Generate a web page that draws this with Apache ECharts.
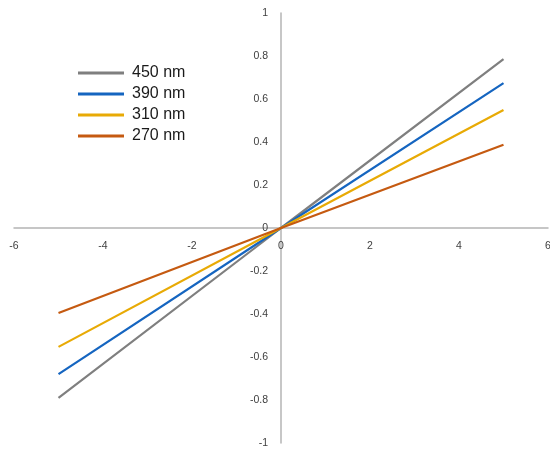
<!DOCTYPE html>
<html><head><meta charset="utf-8">
<script src="https://cdn.jsdelivr.net/npm/echarts@6/dist/echarts.min.js"></script>
<style>html,body{margin:0;padding:0;background:#fff}#c{width:550px;height:452px}</style>
</head><body><div id="c"></div>
<script>
var xValues = [-5, 0, 5];
var seriesNames = ['450 nm', '390 nm', '310 nm', '270 nm'];
var s450 = [-0.79, 0, 0.785];
var s390 = [-0.68, 0, 0.674];
var s310 = [-0.553, 0, 0.549];
var s270 = [-0.395, 0, 0.387];
var xTicks = [-6, -4, -2, 0, 2, 4, 6];
var yTicks = [-1, -0.8, -0.6, -0.4, -0.2, 0, 0.2, 0.4, 0.6, 0.8, 1];
var colors = ['#7f7f7f', '#1565c0', '#e8aa05', '#c55a11'];
var allData = [s450, s390, s310, s270];

function pairs(ys){ return xValues.map(function(x,i){ return [x, ys[i]]; }); }

var gridLeft = 14, gridRight = 2, gridTop = 13, gridBottom = 9;
var W = 550, H = 452;
var gw = W - gridLeft - gridRight, gh = H - gridTop - gridBottom;
var xMin = xTicks[0], xMax = xTicks[xTicks.length-1];
var yMin = yTicks[0], yMax = yTicks[yTicks.length-1];
// move axes so they sit on the zero of the other axis
var xAxisOffset = -gh * (0 - yMin) / (yMax - yMin);
var yAxisOffset = -gw * (0 - xMin) / (xMax - xMin);

var chart = echarts.init(document.getElementById('c'));
chart.setOption({
  animation: false,
  color: colors,
  grid: { left: gridLeft, right: gridRight, top: gridTop, bottom: gridBottom, containLabel: false, outerBoundsMode: 'none' },
  legend: {
    orient: 'vertical', left: 73, top: 59,
    icon: 'rect', itemWidth: 46, itemHeight: 3, itemGap: 3,
    textStyle: { fontFamily: 'Liberation Sans, Arial', fontSize: 16, color: '#1a1a1a', lineHeight: 18, padding: [0,0,0,3] },
    data: seriesNames
  },
  xAxis: {
    type: 'value', min: xMin, max: xMax, interval: 2, position: 'bottom', offset: xAxisOffset,
    axisLine: { onZero: false, lineStyle: { color: '#b4b4b4', width: 1.5 } },
    axisTick: { show: false },
    splitLine: { show: false },
    axisLabel: { fontFamily: 'Liberation Sans, Arial', fontSize: 10.5, color: '#404040', margin: 13 }
  },
  yAxis: {
    type: 'value', min: yMin, max: yMax, interval: 0.2, position: 'left', offset: yAxisOffset,
    axisLine: { show: true, onZero: false, lineStyle: { color: '#b4b4b4', width: 1.5 } },
    axisTick: { show: false },
    splitLine: { show: false },
    axisLabel: { fontFamily: 'Liberation Sans, Arial', fontSize: 10.5, color: '#404040', margin: 13,
      formatter: function(v){ return String(Math.round(v*10)/10); } }
  },
  series: seriesNames.map(function(n, i){
    return { name: n, type: 'line', data: pairs(allData[i]), showSymbol: false, symbol: 'none',
      lineStyle: { width: 2.2, color: colors[i] }, itemStyle: { color: colors[i] } };
  })
});
</script></body></html>
